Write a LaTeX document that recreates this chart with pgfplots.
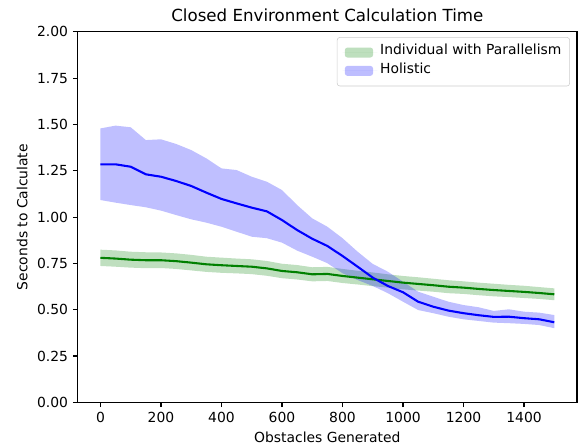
\documentclass[border=0pt]{standalone}
\usepackage{fontspec}
\setmainfont{DejaVu Sans}
\usepackage{pgfplots}
\usepackage{pgfplotstable}
\pgfplotsset{compat=1.18}
\usepgfplotslibrary{fillbetween}

% x, holistic mean/low/high, parallel mean/low/high
\pgfplotstableread{
x    bm    blo   bhi   gm    glo   ghi
0    1.285 1.092 1.479 0.780 0.736 0.824
50   1.285 1.078 1.494 0.776 0.732 0.820
100  1.272 1.065 1.485 0.770 0.727 0.813
150  1.231 1.053 1.416 0.767 0.724 0.810
200  1.218 1.035 1.420 0.767 0.725 0.809
250  1.195 1.011 1.395 0.762 0.720 0.804
300  1.168 0.988 1.362 0.754 0.712 0.796
350  1.132 0.970 1.317 0.745 0.704 0.786
400  1.098 0.948 1.263 0.740 0.699 0.781
450  1.074 0.921 1.254 0.736 0.696 0.776
500  1.051 0.894 1.218 0.732 0.692 0.772
550  1.031 0.886 1.191 0.723 0.683 0.763
600  0.984 0.862 1.146 0.709 0.670 0.748
650  0.930 0.819 1.065 0.702 0.663 0.741
700  0.883 0.786 0.993 0.691 0.653 0.729
750  0.844 0.751 0.948 0.693 0.655 0.731
800  0.790 0.697 0.886 0.682 0.644 0.720
850  0.732 0.660 0.813 0.673 0.636 0.710
900  0.673 0.628 0.747 0.664 0.627 0.701
950  0.628 0.589 0.705 0.655 0.619 0.691
1000 0.594 0.543 0.651 0.646 0.610 0.682
1050 0.543 0.498 0.597 0.639 0.603 0.675
1100 0.516 0.481 0.570 0.632 0.597 0.667
1150 0.495 0.462 0.543 0.624 0.589 0.659
1200 0.481 0.448 0.525 0.619 0.585 0.653
1250 0.470 0.439 0.513 0.612 0.578 0.646
1300 0.461 0.430 0.493 0.606 0.572 0.640
1350 0.462 0.427 0.502 0.601 0.568 0.634
1400 0.454 0.423 0.489 0.596 0.563 0.629
1450 0.448 0.417 0.484 0.590 0.558 0.622
1500 0.432 0.400 0.471 0.583 0.551 0.615
}\data

\definecolor{mplgreen}{HTML}{008000}
\definecolor{mplblue}{HTML}{0000FF}

\pgfplotsset{bandlegend/.style={legend image code/.code={%
    \fill[##1] (0pt,-3.6pt) rectangle (20.4pt,3.6pt);
    \path (-1.5pt,0pt) -- (23.5pt,0pt);}}}

\begin{document}
\begin{tikzpicture}
\begin{axis}[
    scale only axis,
    width=359.4pt,
    height=266.6pt,
    xmin=-75, xmax=1575,
    ymin=0, ymax=2,
    xtick={0,200,...,1400},
    ytick={0,0.25,...,2},
    tick align=outside,
    major tick length=3.5pt,
    every tick/.style={black, line width=0.8pt},
    axis line style={line width=0.8pt},
    tick pos=left,
    font=\fontsize{10}{12}\selectfont,
    /pgf/number format/assume math mode=true,
    xticklabel style={/pgf/number format/.cd, 1000 sep={}},
    yticklabel style={/pgf/number format/.cd, fixed, fixed zerofill, precision=2},
    title={Closed Environment Calculation Time},
    title style={font=\fontsize{12}{14}\selectfont, yshift=-2pt},
    xlabel={Obstacles Generated},
    ylabel={Seconds to Calculate},
    xlabel style={yshift=0pt},
    ylabel style={yshift=0pt},
    legend style={at={(0.986,0.986)}, anchor=north east,
        draw=black!20, rounded corners=2pt, fill=white, fill opacity=0.8,
        text opacity=1, font=\fontsize{10}{12}\selectfont,
        inner xsep=4pt, inner ysep=3pt, row sep=-2.6pt,
        nodes={text depth=4.2pt}},
    legend cell align=left,
]
\addplot[draw=none, name path=ghi, forget plot] table[x=x, y=ghi]{\data};
\addplot[draw=none, name path=glo, forget plot] table[x=x, y=glo]{\data};
\addplot[draw=none, name path=bhi, forget plot] table[x=x, y=bhi]{\data};
\addplot[draw=none, name path=blo, forget plot] table[x=x, y=blo]{\data};

\addplot[fill=mplgreen, fill opacity=0.25, draw=none, bandlegend]
    fill between[of=ghi and glo];
\addlegendentry{Individual with Parallelism}
\addplot[fill=mplblue, fill opacity=0.25, draw=none, bandlegend]
    fill between[of=bhi and blo];
\addlegendentry{Holistic}

\addplot[mplgreen, line width=1.5pt, forget plot] table[x=x, y=gm]{\data};
\addplot[mplblue, line width=1.5pt, forget plot] table[x=x, y=bm]{\data};
\end{axis}
\pgfresetboundingbox
\path[use as bounding box] ([xshift=-56pt,yshift=-31.5pt]current axis.south west)
    rectangle ([xshift=2.9pt,yshift=23pt]current axis.north east);
\end{tikzpicture}
\end{document}
